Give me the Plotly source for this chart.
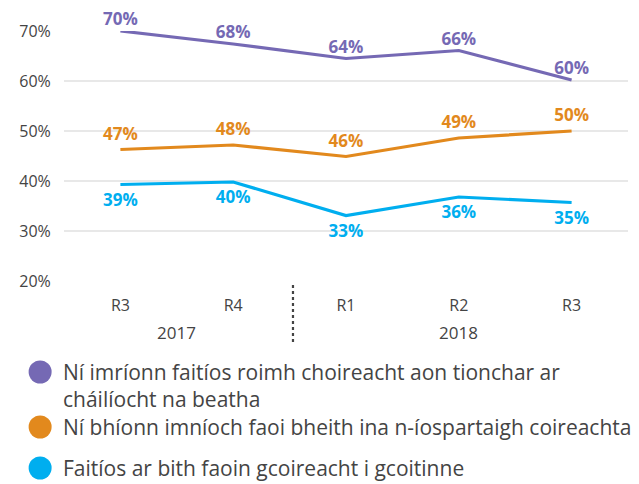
import plotly.graph_objects as go

rounds = ["R3", "R4", "R1", "R2", "R3"]
years = ["2017", "2018"]
series_names = [
    "Ní imríonn faitíos roimh choireacht aon tionchar ar<br>cháilíocht na beatha",
    "Ní bhíonn imníoch faoi bheith ina n-íospartaigh coireachta",
    "Faitíos ar bith faoin gcoireacht i gcoitinne",
]
purple_vals = [70.0, 67.4, 64.5, 66.1, 60.2]
orange_vals = [46.3, 47.2, 44.9, 48.6, 50.0]
blue_vals = [39.3, 39.8, 33.1, 36.8, 35.7]
purple_labels = ["70%", "68%", "64%", "66%", "60%"]
orange_labels = ["47%", "48%", "46%", "49%", "50%"]
blue_labels = ["39%", "40%", "33%", "36%", "35%"]
y_ticks = [20, 30, 40, 50, 60, 70]
y_ticklabels = ["20%", "30%", "40%", "50%", "60%", "70%"]

colors = ["#7569B4", "#E2891D", "#00AEEF"]
FONT = "Open Sans"
TXT = "#444444"
x = list(range(len(rounds)))

fig = go.Figure()
for vals, labels, col, pos, msize in [
    (purple_vals, purple_labels, colors[0], "top center", 1),
    (orange_vals, orange_labels, colors[1], "top center", 7),
    (blue_vals, blue_labels, colors[2], "bottom center", 12),
]:
    fig.add_trace(go.Scatter(
        x=x, y=vals, mode="lines+markers+text", text=labels, textposition=pos,
        textfont=dict(family=FONT, size=17, color=col, weight="bold"),
        line=dict(color=col, width=3.2),
        marker=dict(size=msize, color="rgba(0,0,0,0)"),
        cliponaxis=False, showlegend=False, hoverinfo="skip",
    ))

# page body has an 8px margin; the figure is sized to fit the window
W, H = 631, 476
fig.update_layout(
    width=W, height=H,
    margin=dict(l=53, r=11, t=23, b=203),
    plot_bgcolor="white", paper_bgcolor="white",
    font=dict(family=FONT, color=TXT),
    showlegend=False,
    xaxis=dict(
        range=[-0.5, 4.5], tickvals=x, ticktext=rounds, showgrid=False,
        zeroline=False, showline=False, ticks="outside", ticklen=10,
        tickcolor="rgba(0,0,0,0)", tickfont=dict(size=16, color=TXT),
    ),
    yaxis=dict(
        range=[20, 70], tickvals=y_ticks, ticktext=y_ticklabels,
        showgrid=True, gridcolor="#E8E8E8", gridwidth=1.5, zeroline=False,
        showline=False, tickfont=dict(size=16, color=TXT),
        ticks="outside", ticklen=9, tickcolor="rgba(0,0,0,0)",
    ),
)

# year labels under the round ticks
for xv, yr in [(0.5, years[0]), (3, years[1])]:
    fig.add_annotation(x=xv, xref="x", y=-0.152, yref="paper", yanchor="top",
                       text=yr, showarrow=False, font=dict(size=17, color=TXT))

# dotted separator between years
fig.add_shape(type="line", xref="x", yref="paper", x0=1.53, x1=1.53,
              y0=-0.016, y1=-0.244, line=dict(color="#444444", width=2.2, dash="dot"))

# manual legend (positions in screen pixels of the 639x484 window)
PX0, PY0, PW, PH = 61, 281, 567, 250
legend_y = [372, 427, 468]
for name, col, py in zip(series_names, colors, legend_y):
    fig.add_shape(type="circle", xref="paper", yref="paper",
                  xsizemode="pixel", ysizemode="pixel",
                  xanchor=(37 - PX0) / PW, yanchor=(PY0 - py) / PH,
                  x0=-11.5, x1=11.5, y0=-11.5, y1=11.5,
                  fillcolor=col, line=dict(width=0))
    fig.add_annotation(xref="paper", yref="paper", x=(58 - PX0) / PW,
                       y=(PY0 - (py - 16)) / PH,
                       xanchor="left", yanchor="top", align="left",
                       text=name, showarrow=False,
                       font=dict(size=21, color=TXT))

fig.write_html("out.html")
